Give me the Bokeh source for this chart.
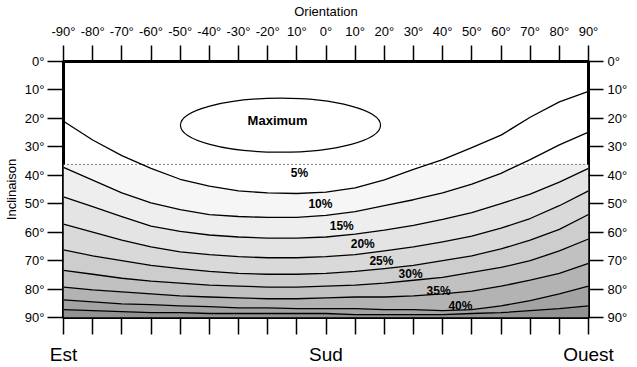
import numpy as np
from bokeh.plotting import figure
from bokeh.models import Range1d, LinearAxis, FixedTicker
from bokeh.embed import file_html
from bokeh.resources import INLINE
from bokeh.core.properties import value

# ---------------- data ----------------
orientation = [-90, -80, -70, -60, -50, -40, -30, -20, -10, 0, 10, 20, 30, 40, 50, 60, 70, 80, 90]
loss_5 = [21.0, 27.6, 33.1, 37.6, 41.4, 43.8, 45.5, 46.2, 46.4, 45.9, 44.4, 41.6, 37.9, 34.5, 30.3, 25.9, 19.6, 14.2, 10.5]
loss_10 = [37.2, 41.7, 46.2, 49.7, 52.1, 53.8, 54.5, 54.8, 54.8, 54.1, 52.8, 50.7, 48.6, 46.2, 43.1, 39.3, 34.5, 29.3, 24.8]
loss_15 = [47.6, 51.0, 54.5, 57.9, 59.7, 61.0, 61.7, 62.1, 62.1, 61.7, 60.7, 59.3, 57.6, 55.5, 53.1, 50.0, 46.6, 42.4, 37.6]
loss_20 = [57.2, 60.0, 62.8, 65.2, 66.9, 67.9, 68.6, 69.0, 69.0, 68.6, 67.9, 66.6, 65.2, 63.4, 61.4, 58.6, 55.2, 50.7, 45.5]
loss_25 = [66.2, 68.3, 70.0, 71.7, 72.8, 73.8, 74.5, 74.8, 74.8, 74.5, 73.8, 72.8, 71.7, 70.0, 68.3, 65.9, 62.8, 59.0, 53.8]
loss_30 = [73.4, 74.8, 76.2, 77.2, 77.9, 78.6, 79.0, 79.3, 79.3, 79.0, 78.6, 77.9, 76.9, 75.9, 74.1, 72.4, 70.0, 66.6, 62.4]
loss_35 = [79.3, 80.3, 81.0, 81.7, 82.4, 82.8, 83.1, 83.4, 83.4, 83.1, 82.8, 82.8, 82.4, 81.7, 80.7, 79.0, 76.9, 74.5, 71.0]
loss_40 = [83.8, 84.5, 85.2, 85.5, 85.9, 86.2, 86.6, 86.6, 86.9, 86.9, 86.9, 87.2, 87.2, 87.6, 87.2, 85.9, 84.1, 81.7, 79.0]
loss_45 = [87.2, 87.6, 87.9, 88.3, 88.3, 88.6, 88.6, 88.6, 88.6, 88.6, 89.0, 89.0, 89.0, 89.0, 88.6, 88.3, 87.6, 86.9, 85.9]

contour_labels = ["5%", "10%", "15%", "20%", "25%", "30%", "35%", "40%"]
label_x = [-9.1, -1.9, 5.4, 12.6, 19.0, 29.0, 38.6, 46.1]
label_y = [39.3, 50.0, 57.9, 64.1, 70.3, 74.8, 80.6, 85.8]

max_x, max_y, max_w, max_h = -15.6, 22.4, 68.6, 19.0
shade_start = 36.2

x_ticks = list(range(-90, 91, 10))
x_tick_labels = ["-90°", "-80°", "-70°", "-60°", "-50°", "-40°", "-30°", "-20°", "10°", "0°",
                 "10°", "20°", "30°", "40°", "50°", "60°", "70°", "80°", "90°"]
y_ticks = list(range(0, 91, 10))
y_tick_labels = ["0°", "10°", "20°", "30°", "40°", "50°", "60°", "70°", "80°", "90°"]
bottom_labels = {-90: "Est", 0: "Sud", 90: "Ouest"}

band_colors = ["#f6f6f6", "#eeeeee", "#e4e4e4", "#d9d9d9", "#cdcdcd",
               "#c1c1c1", "#b3b3b3", "#a3a3a3", "#929292"]

FONT = "Liberation Sans"

# ---------------- figure ----------------
p = figure(width=637, height=367, x_range=Range1d(-90, 90), y_range=Range1d(90, 0),
           output_backend="svg", toolbar_location=None,
           min_border_left=63, min_border_right=49, min_border_top=56, min_border_bottom=50)
p.grid.visible = False
p.outline_line_color = "black"
p.outline_line_width = 3
p.background_fill_color = "white"
p.border_fill_color = "white"

curves = [loss_5, loss_10, loss_15, loss_20, loss_25, loss_30, loss_35, loss_40, loss_45]
ox = np.array(orientation, dtype=float)
for i in range(len(curves)):
    top = np.maximum(np.array(curves[i]), shade_start)
    if i + 1 < len(curves):
        bot = np.maximum(np.array(curves[i + 1]), shade_start)
    else:
        bot = np.full_like(ox, 90.0)
    p.varea(x=ox, y1=top, y2=bot, fill_color=band_colors[i])

p.line(x=[-90, 90], y=[shade_start, shade_start], line_color="black", line_width=1,
       line_dash="1 3")

for c in curves:
    p.line(x=ox, y=c, line_color="black", line_width=1.3, line_join="round")

p.ellipse(x=[max_x], y=[max_y], width=[max_w], height=[max_h], fill_color=None,
          line_color="black", line_width=1.2)
p.text(x=[max_x - 1], y=[max_y - 1.8], text=["Maximum"], text_font=value(FONT),
       text_font_style="bold", text_font_size="13px", text_align="center",
       text_baseline="middle", text_color="black")

p.text(x=label_x, y=label_y, text=contour_labels, text_font=value(FONT),
       text_font_style="bold", text_font_size="12px", text_align="center",
       text_baseline="middle", text_color="black")


def style(ax, tick_out, standoff, size="13px"):
    ax.axis_line_color = None
    ax.major_tick_in = 0
    ax.major_tick_out = tick_out
    ax.minor_tick_in = 0
    ax.minor_tick_out = 0
    ax.major_tick_line_width = 1.5
    ax.major_tick_line_color = "black"
    ax.major_label_text_font = FONT
    ax.major_label_text_font_size = size
    ax.major_label_text_color = "black"
    ax.major_label_standoff = standoff
    ax.axis_label_text_font = FONT
    ax.axis_label_text_font_style = "normal"
    ax.axis_label_text_font_size = "13px"
    ax.axis_label_text_color = "black"


# bottom axis
xb = p.xaxis[0]
xb.ticker = FixedTicker(ticks=x_ticks)
xb.major_label_overrides = {t: bottom_labels.get(t, "") for t in x_ticks}
style(xb, 17, 9, "19px")

# left axis
yl = p.yaxis[0]
yl.ticker = FixedTicker(ticks=y_ticks)
yl.major_label_overrides = dict(zip(y_ticks, y_tick_labels))
yl.axis_label = "Inclinaison"
style(yl, 16, 3)
yl.axis_label_standoff = 3

# top axis
xt = LinearAxis(ticker=FixedTicker(ticks=x_ticks),
                major_label_overrides=dict(zip(x_ticks, x_tick_labels)),
                axis_label="Orientation")
style(xt, 16, 7)
xt.axis_label_standoff = 2
p.add_layout(xt, "above")

# right axis
yr = LinearAxis(ticker=FixedTicker(ticks=y_ticks),
                major_label_overrides=dict(zip(y_ticks, y_tick_labels)))
style(yr, 15, 4)
p.add_layout(yr, "right")

open("out.html", "w").write(file_html(p, INLINE))
